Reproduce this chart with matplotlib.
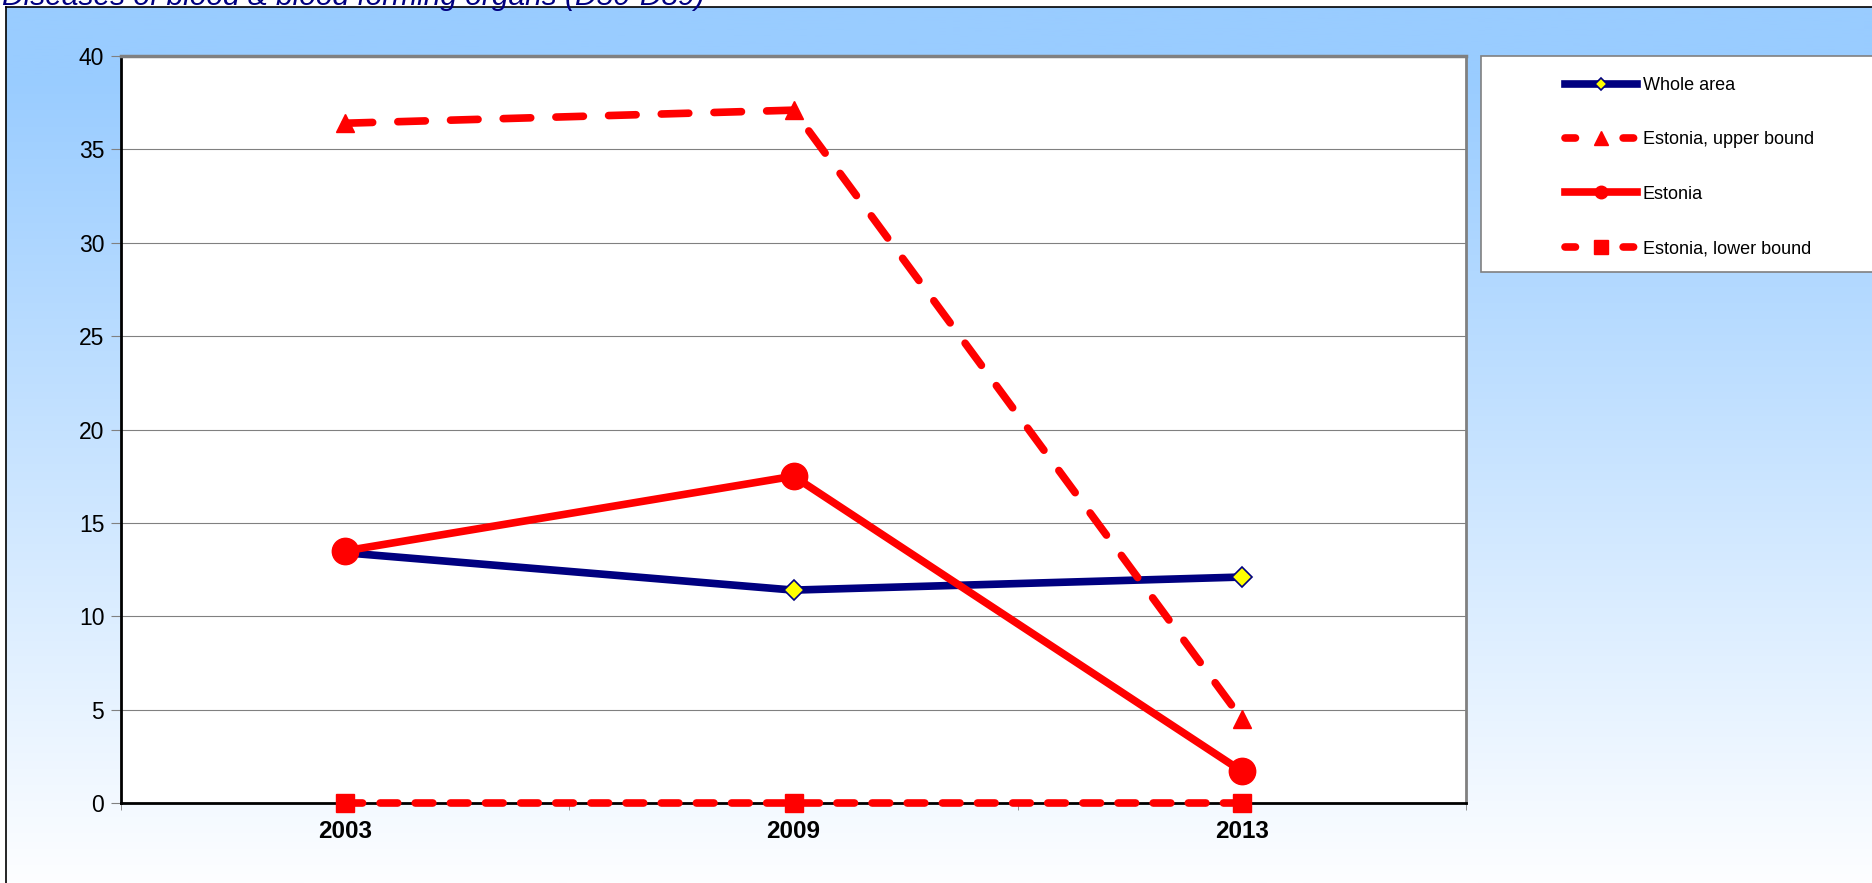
import numpy as np
import matplotlib.pyplot as plt
from matplotlib.patches import Rectangle
from matplotlib.lines import Line2D
from matplotlib.legend_handler import HandlerLine2D

plt.rcParams['font.family'] = ['Liberation Sans', 'DejaVu Sans']

# data
years = ['2003', '2009', '2013']
whole_area = [13.4, 11.4, 12.1]
est_upper = [36.4, 37.1, 4.5]
estonia = [13.5, 17.5, 1.7]
est_lower = [0, 0, 0]

W, H = 1872, 883
fig = plt.figure(figsize=(W / 100, H / 100), dpi=100)
fig.patch.set_facecolor('white')

# blue -> white gradient behind everything
bg = fig.add_axes([6 / W, 0, 1 - 6 / W, 1 - 7 / H], zorder=-10)
t = np.linspace(0, 1, 300)
f = np.clip((t - 0.08) / 0.92, 0, 1)
top = np.array([153, 204, 255]) / 255
bot = np.array([253, 254, 255]) / 255
grad = top[None, :] * (1 - f[:, None]) + bot[None, :] * f[:, None]
bg.imshow(grad[:, None, :], aspect='auto', extent=[0, 1, 0, 1], origin='upper')
bg.axis('off')

fig.add_artist(Line2D([6 / W, 6 / W], [0, 1 - 7 / H], color='black', lw=1.2,
                      transform=fig.transFigure))
fig.add_artist(Line2D([6 / W, 1], [1 - 7 / H, 1 - 7 / H], color='black', lw=1.2,
                      transform=fig.transFigure))

fig.text(0.001, 1 - 5 / H, 'Diseases of blood & blood forming organs (D50-D89)',
         fontsize=21.5, style='italic', color='#000080', va='baseline', ha='left')

ax = fig.add_axes([121 / W, 1 - 803 / H, (1466 - 121) / W, (803 - 56) / H])
ax.set_facecolor('white')

x = np.arange(len(years)) + 0.5
long_dash = (0, (3.6, 3.3))
short_dash = (0, (2.3, 2.3))
lw = 5.5

ax.plot(x, whole_area, color='#000080', lw=lw, marker='D', ms=10.5,
        mfc='#FFFF00', mec='#000080', mew=1.2, label='Whole area', zorder=3)
ax.plot(x, est_upper, color='red', lw=lw, ls=long_dash, dash_capstyle='round',
        marker='^', ms=13, label='Estonia, upper bound', zorder=4)
ax.plot(x, estonia, color='red', lw=lw, marker='o', ms=19,
        label='Estonia', zorder=5)
ax.plot(x, est_lower, color='red', lw=lw, ls=short_dash, dash_capstyle='round',
        marker='s', ms=13, label='Estonia, lower bound', zorder=6, clip_on=False)

ax.set_xlim(0, 3)
ax.set_ylim(0, 40)
ax.set_yticks(range(0, 41, 5))
ax.set_xticks(x)
ax.set_xticklabels(years, fontweight='bold', fontsize=17.5)
ax.set_xticks([0, 1, 2, 3], minor=True)
ax.tick_params(axis='x', which='major', length=0, pad=12)
ax.tick_params(axis='x', which='minor', length=5, color='#808080')
ax.tick_params(axis='y', length=7, pad=5, labelsize=16.5, color='#808080')
ax.yaxis.grid(True, color='#808080', lw=0.8)
ax.set_axisbelow(True)

ax.spines['left'].set_color('black')
ax.spines['left'].set_linewidth(2)
ax.spines['bottom'].set_color('black')
ax.spines['bottom'].set_linewidth(2)
ax.spines['top'].set_color('#808080')
ax.spines['top'].set_linewidth(2.5)
ax.spines['right'].set_color('#808080')
ax.spines['right'].set_linewidth(2)

# legend box
fig.add_artist(Rectangle((1481 / W, 1 - 272 / H), 1, (272 - 56) / H,
                         transform=fig.transFigure, fc='white', ec='#808080',
                         lw=1.2, zorder=2))

legend_ms = {'Whole area': 6, 'Estonia, upper bound': 10,
             'Estonia': 9, 'Estonia, lower bound': 10}


def legend_marker(leg_line, orig):
    leg_line.update_from(orig)
    leg_line.set_markersize(legend_ms[orig.get_label()])


handles, labels = ax.get_legend_handles_labels()
fs = 13
fpx = fs * 100 / 72
leg = fig.legend(handles, labels, loc='upper left',
                 bbox_to_anchor=(1565 / W, 1 - 77 / H), bbox_transform=fig.transFigure,
                 frameon=False, prop={'family': 'Liberation Sans', 'size': fs},
                 handlelength=72 / fpx, handletextpad=6 / fpx, labelspacing=2.07,
                 borderpad=0, borderaxespad=0,
                 handler_map={Line2D: HandlerLine2D(update_func=legend_marker)})
# dash - marker - dash in the legend, like the original
for ln, lab in zip(leg.get_lines(), labels):
    if 'bound' in lab:
        ln.set_linestyle((0, (1.37, 6.24)))

fig.savefig('out.png', dpi=100)
